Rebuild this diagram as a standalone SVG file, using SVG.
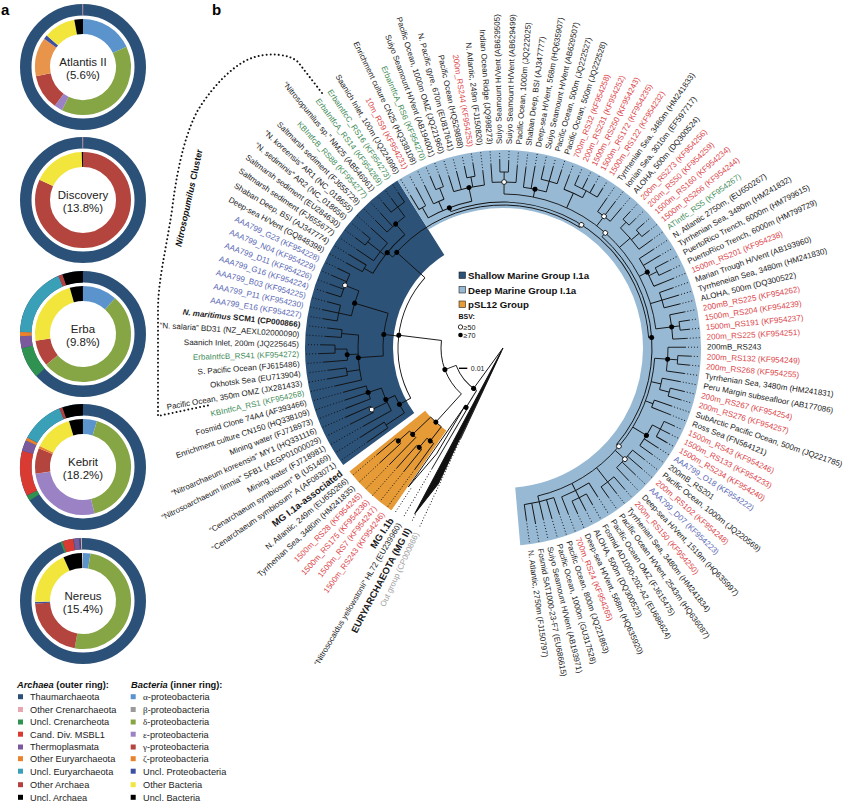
<svg xmlns="http://www.w3.org/2000/svg" width="844" height="803" viewBox="0 0 844 803">
<style>
text{font-family:"Liberation Sans",Arial,sans-serif}
.lb{font-size:8px;fill:#1a1a1a;dominant-baseline:central}
.L{text-anchor:end}
.r{fill:#db464b}
.g{fill:#3f8c58}
.b{fill:#5a68b3}
.gr{fill:#a0a0a0}
.bd{font-weight:bold;font-size:9.5px}
.d{stroke-dasharray:1 2}
.o{fill:none;stroke-width:11.5}
.i{fill:none;stroke-width:15}
.dn{font-size:11.5px;text-anchor:middle;fill:#222}
.leg{font-size:9.2px;fill:#222}
.hd{font-size:9.3px;font-weight:bold;fill:#111}
.bf{fill:#000;stroke:none}
.bo{fill:#fff;stroke:#000;stroke-width:0.8}
.tl{font-size:9.7px;font-weight:bold;fill:#111}
</style>
<rect width="844" height="803" fill="#fff"/>
<text x="1" y="15" font-size="15" font-weight="bold">a</text>
<text x="212" y="15" font-size="15" font-weight="bold">b</text>

<!-- donuts -->
<g id="donut-atlantis" transform="translate(83,67)">
<circle class="o" r="57.25" stroke="#2c5178"/>
<circle class="o" r="57.25" stroke="#e7a7b0" pathLength="360" stroke-dasharray="0.8 360" transform="rotate(269.4)"/>
<circle class="i" r="40.5" stroke="#5b93cc" pathLength="360" stroke-dasharray="65 360" transform="rotate(-90)"/>
<circle class="i" r="40.5" stroke="#86a545" pathLength="360" stroke-dasharray="141 360" transform="rotate(-25)"/>
<circle class="i" r="40.5" stroke="#9b82c4" pathLength="360" stroke-dasharray="10 360" transform="rotate(116)"/>
<circle class="i" r="40.5" stroke="#b3443e" pathLength="360" stroke-dasharray="43 360" transform="rotate(126)"/>
<circle class="i" r="40.5" stroke="#e8944a" pathLength="360" stroke-dasharray="47 360" transform="rotate(169)"/>
<circle class="i" r="40.5" stroke="#3c50a0" pathLength="360" stroke-dasharray="5 360" transform="rotate(216)"/>
<circle class="i" r="40.5" stroke="#f2e53c" pathLength="360" stroke-dasharray="38.5 360" transform="rotate(221)"/>
<circle class="i" r="40.5" stroke="#000" pathLength="360" stroke-dasharray="10.5 360" transform="rotate(259.5)"/>
<text class="dn" y="-1">Atlantis II</text><text class="dn" y="12">(5.6%)</text>
</g>
<g id="donut-discovery" transform="translate(83,200)">
<circle class="o" r="57.25" stroke="#2c5178"/>
<circle class="o" r="57.25" stroke="#e7a7b0" pathLength="360" stroke-dasharray="0.8 360" transform="rotate(269.4)"/>
<circle class="i" r="40.5" stroke="#b3443e" pathLength="360" stroke-dasharray="295 360" transform="rotate(-90)"/>
<circle class="i" r="40.5" stroke="#f2e53c" pathLength="360" stroke-dasharray="63.5 360" transform="rotate(205)"/>
<circle class="i" r="40.5" stroke="#000" pathLength="360" stroke-dasharray="1.5 360" transform="rotate(268.5)"/>
<text class="dn" y="-1">Discovery</text><text class="dn" y="12">(13.8%)</text>
</g>
<g id="donut-erba" transform="translate(83,334)">
<circle class="o" r="57.25" stroke="#2c5178"/>
<circle class="o" r="57.25" stroke="#2f9250" pathLength="360" stroke-dasharray="29 360" transform="rotate(138)"/>
<circle class="o" r="57.25" stroke="#7a5a9c" pathLength="360" stroke-dasharray="11 360" transform="rotate(167)"/>
<circle class="o" r="57.25" stroke="#e8822d" pathLength="360" stroke-dasharray="4 360" transform="rotate(178)"/>
<circle class="o" r="57.25" stroke="#3aa0b8" pathLength="360" stroke-dasharray="65 360" transform="rotate(182)"/>
<circle class="o" r="57.25" stroke="#b5413f" pathLength="360" stroke-dasharray="4 360" transform="rotate(247)"/>
<circle class="o" r="57.25" stroke="#000" pathLength="360" stroke-dasharray="19 360" transform="rotate(251)"/>
<circle class="i" r="40.5" stroke="#5b93cc" pathLength="360" stroke-dasharray="42 360" transform="rotate(-90)"/>
<circle class="i" r="40.5" stroke="#86a545" pathLength="360" stroke-dasharray="188 360" transform="rotate(-48)"/>
<circle class="i" r="40.5" stroke="#b3443e" pathLength="360" stroke-dasharray="32 360" transform="rotate(140)"/>
<circle class="i" r="40.5" stroke="#f2e53c" pathLength="360" stroke-dasharray="82 360" transform="rotate(172)"/>
<circle class="i" r="40.5" stroke="#000" pathLength="360" stroke-dasharray="16 360" transform="rotate(254)"/>
<text class="dn" y="-1">Erba</text><text class="dn" y="12">(9.8%)</text>
</g>
<g id="donut-kebrit" transform="translate(83,467)">
<circle class="o" r="57.25" stroke="#2c5178"/>
<circle class="o" r="57.25" stroke="#2f9250" pathLength="360" stroke-dasharray="5 360" transform="rotate(148)"/>
<circle class="o" r="57.25" stroke="#d93a32" pathLength="360" stroke-dasharray="42 360" transform="rotate(153)"/>
<circle class="o" r="57.25" stroke="#7a5a9c" pathLength="360" stroke-dasharray="10 360" transform="rotate(195)"/>
<circle class="o" r="57.25" stroke="#e8822d" pathLength="360" stroke-dasharray="3 360" transform="rotate(205)"/>
<circle class="o" r="57.25" stroke="#3aa0b8" pathLength="360" stroke-dasharray="40 360" transform="rotate(208)"/>
<circle class="o" r="57.25" stroke="#b5413f" pathLength="360" stroke-dasharray="3 360" transform="rotate(248)"/>
<circle class="o" r="57.25" stroke="#000" pathLength="360" stroke-dasharray="19 360" transform="rotate(251)"/>
<circle class="i" r="40.5" stroke="#5b93cc" pathLength="360" stroke-dasharray="17 360" transform="rotate(-90)"/>
<circle class="i" r="40.5" stroke="#86a545" pathLength="360" stroke-dasharray="149 360" transform="rotate(-73)"/>
<circle class="i" r="40.5" stroke="#9b82c4" pathLength="360" stroke-dasharray="96 360" transform="rotate(76)"/>
<circle class="i" r="40.5" stroke="#b3443e" pathLength="360" stroke-dasharray="31 360" transform="rotate(172)"/>
<circle class="i" r="40.5" stroke="#e8822d" pathLength="360" stroke-dasharray="3 360" transform="rotate(203)"/>
<circle class="i" r="40.5" stroke="#f2e53c" pathLength="360" stroke-dasharray="47 360" transform="rotate(206)"/>
<circle class="i" r="40.5" stroke="#000" pathLength="360" stroke-dasharray="17 360" transform="rotate(253)"/>
<text class="dn" y="-1">Kebrit</text><text class="dn" y="12">(18.2%)</text>
</g>
<g id="donut-nereus" transform="translate(83,601)">
<circle class="o" r="57.25" stroke="#2c5178"/>
<circle class="o" r="57.25" stroke="#2f9250" pathLength="360" stroke-dasharray="2 360" transform="rotate(249)"/>
<circle class="o" r="57.25" stroke="#d93a32" pathLength="360" stroke-dasharray="10 360" transform="rotate(251)"/>
<circle class="o" r="57.25" stroke="#7a5a9c" pathLength="360" stroke-dasharray="5 360" transform="rotate(261.5)"/>
<circle class="o" r="57.25" stroke="#e7a7b0" pathLength="360" stroke-dasharray="1 360" transform="rotate(268)"/>
<circle class="i" r="40.5" stroke="#5b93cc" pathLength="360" stroke-dasharray="9 360" transform="rotate(-90)"/>
<circle class="i" r="40.5" stroke="#86a545" pathLength="360" stroke-dasharray="181 360" transform="rotate(-81)"/>
<circle class="i" r="40.5" stroke="#b3443e" pathLength="360" stroke-dasharray="77 360" transform="rotate(100)"/>
<circle class="i" r="40.5" stroke="#3c50a0" pathLength="360" stroke-dasharray="2 360" transform="rotate(177)"/>
<circle class="i" r="40.5" stroke="#f2e53c" pathLength="360" stroke-dasharray="67 360" transform="rotate(179)"/>
<circle class="i" r="40.5" stroke="#000" pathLength="360" stroke-dasharray="23 360" transform="rotate(246)"/>
<text class="dn" y="-1">Nereus</text><text class="dn" y="12">(15.4%)</text>
</g>

<!-- donut legend -->
<g id="legend-archaea">
<text class="hd" x="17" y="688"><tspan font-style="italic">Archaea</tspan> (outer ring):</text>
<rect x="18" y="694.2" width="5" height="5" fill="#2c5178"/><text class="leg" x="30" y="700">Thaumarchaeota</text>
<rect x="18" y="707" width="5" height="5" fill="#e7a7b0"/><text class="leg" x="30" y="712.8">Other Crenarchaeota</text>
<rect x="18" y="719.5" width="5" height="5" fill="#2f9250"/><text class="leg" x="30" y="725.3">Uncl. Crenarcheota</text>
<rect x="18" y="731.7" width="5" height="5" fill="#d93a32"/><text class="leg" x="30" y="737.5">Cand. Div. MSBL1</text>
<rect x="18" y="744.5" width="5" height="5" fill="#7a5a9c"/><text class="leg" x="30" y="750.3">Thermoplasmata</text>
<rect x="18" y="756.2" width="5" height="5" fill="#e8822d"/><text class="leg" x="30" y="762">Other Euryarchaeota</text>
<rect x="18" y="768.7" width="5" height="5" fill="#3aa0b8"/><text class="leg" x="30" y="774.5">Uncl. Euryarchaeota</text>
<rect x="18" y="782.2" width="5" height="5" fill="#b5413f"/><text class="leg" x="30" y="788">Other Archaea</text>
<rect x="18" y="794.8" width="5" height="5" fill="#000"/><text class="leg" x="30" y="800.6">Uncl. Archaea</text>
</g>
<g id="legend-bacteria">
<text class="hd" x="131" y="688"><tspan font-style="italic">Bacteria</tspan> (inner ring):</text>
<rect x="130.7" y="694.2" width="5" height="5" fill="#5b93cc"/><text class="leg" x="143" y="700"><tspan font-family="Liberation Serif">α</tspan>-proteobacteria</text>
<rect x="130.7" y="707" width="5" height="5" fill="#9a9a9a"/><text class="leg" x="143" y="712.8"><tspan font-family="Liberation Serif">β</tspan>-proteobacteria</text>
<rect x="130.7" y="719.5" width="5" height="5" fill="#86a545"/><text class="leg" x="143" y="725.3"><tspan font-family="Liberation Serif">δ</tspan>-proteobacteria</text>
<rect x="130.7" y="731.7" width="5" height="5" fill="#9b82c4"/><text class="leg" x="143" y="737.5"><tspan font-family="Liberation Serif">ε</tspan>-proteobacteria</text>
<rect x="130.7" y="744.5" width="5" height="5" fill="#b3443e"/><text class="leg" x="143" y="750.3"><tspan font-family="Liberation Serif">γ</tspan>-proteobacteria</text>
<rect x="130.7" y="756.2" width="5" height="5" fill="#e8822d"/><text class="leg" x="143" y="762"><tspan font-family="Liberation Serif">ζ</tspan>-proteobacteria</text>
<rect x="130.7" y="768.7" width="5" height="5" fill="#3c50a0"/><text class="leg" x="143" y="774.5">Uncl. Proteobacteria</text>
<rect x="130.7" y="782.2" width="5" height="5" fill="#f2e53c"/><text class="leg" x="143" y="788">Other Bacteria</text>
<rect x="130.7" y="794.8" width="5" height="5" fill="#000"/><text class="leg" x="143" y="800.6">Uncl. Bacteria</text>
</g>

<!-- clade background rings -->
<g id="clade-rings" transform="translate(503,348)" fill="none">
<circle r="154" stroke="#2c5278" stroke-width="88" pathLength="360" stroke-dasharray="94 360" transform="rotate(143.8)"/>
<circle r="169" stroke="#97b9d4" stroke-width="58" pathLength="360" stroke-dasharray="207.2 360" transform="rotate(237.8)"/>
<circle r="148.5" stroke="#e69b37" stroke-width="97" pathLength="360" stroke-dasharray="16.7 360" transform="rotate(124.5)"/>
</g>

<!-- Nitrosopumilus cluster outline -->
<g id="nitrosopumilus-cluster">
<path d="M322,93 L298,62 C290,54 268,52 252,58 C236,63 214,84 198,110 C188,128 178,160 172,210 C166,250 158,280 158,310 L158,416 L210,405" fill="none" stroke="#111" stroke-width="2" stroke-dasharray="0.01 4" stroke-linecap="round"/>
<text transform="translate(189,198) rotate(-77.6)" text-anchor="middle" dominant-baseline="central" font-size="9" font-weight="bold" fill="#111"><tspan font-style="italic">Nitrosopumilus</tspan> Cluster</text>
</g>

<!-- tree connectors -->
<g id="connectors" transform="translate(503,348)" fill="none" stroke="#111" stroke-width="0.9">
<circle r="50" pathLength="360" stroke-dasharray="37.73 360" transform="rotate(121.875)"/>
<circle r="70" pathLength="360" stroke-dasharray="2.75 360" transform="rotate(120.5)"/>
<circle r="62" pathLength="360" stroke-dasharray="54.81 360" transform="rotate(132.19)"/>
<circle r="100" pathLength="360" stroke-dasharray="8.25 360" transform="rotate(128.06)"/>
<circle r="118" pathLength="360" stroke-dasharray="4.125 360" transform="rotate(126)"/>
<circle r="130" pathLength="360" stroke-dasharray="2.75 360" transform="rotate(128.75)"/>
<circle r="125" pathLength="360" stroke-dasharray="4.125 360" transform="rotate(134.25)"/>
<circle r="140" pathLength="360" stroke-dasharray="2.75 360" transform="rotate(137)"/>
<circle r="105" pathLength="360" stroke-dasharray="70.56 360" transform="rotate(151.44)"/>
<circle r="118" pathLength="360" stroke-dasharray="9.625 360" transform="rotate(146.625)"/>
<circle r="140" pathLength="360" stroke-dasharray="2.75 360" transform="rotate(145.25)"/>
<circle r="128" pathLength="360" stroke-dasharray="11 360" transform="rotate(150.75)"/>
<circle r="145" pathLength="360" stroke-dasharray="2.75 360" transform="rotate(153.5)"/>
<circle r="142" pathLength="360" stroke-dasharray="5.5 360" transform="rotate(159)"/>
<circle r="120" pathLength="360" stroke-dasharray="20.62 360" transform="rotate(176.19)"/>
<circle r="145" pathLength="360" stroke-dasharray="17.875 360" transform="rotate(167.25)"/>
<circle r="158" pathLength="360" stroke-dasharray="2.75 360" transform="rotate(170)"/>
<circle r="156" pathLength="360" stroke-dasharray="4.125 360" transform="rotate(175.5)"/>
<circle r="168" pathLength="360" stroke-dasharray="2.75 360" transform="rotate(178.25)"/>
<circle r="162" pathLength="360" stroke-dasharray="2.75 360" transform="rotate(183.75)"/>
<circle r="155" pathLength="360" stroke-dasharray="9.625 360" transform="rotate(192)"/>
<circle r="168" pathLength="360" stroke-dasharray="5.5 360" transform="rotate(189.25)"/>
<circle r="170" pathLength="360" stroke-dasharray="8.25 360" transform="rotate(197.5)"/>
<circle r="143" pathLength="360" stroke-dasharray="83 360" transform="rotate(219.5)"/>
<circle r="150" pathLength="360" stroke-dasharray="19.25 360" transform="rotate(209.875)"/>
<circle r="160" pathLength="360" stroke-dasharray="2.75 360" transform="rotate(208.5)"/>
<circle r="156" pathLength="360" stroke-dasharray="8.25 360" transform="rotate(214)"/>
<circle r="172" pathLength="360" stroke-dasharray="2.75 360" transform="rotate(216.75)"/>
<circle r="164" pathLength="360" stroke-dasharray="8.25 360" transform="rotate(225)"/>
<circle r="176" pathLength="360" stroke-dasharray="5.5 360" transform="rotate(230.5)"/>
<circle r="146" pathLength="360" stroke-dasharray="106.91 360" transform="rotate(249.06)"/>
<circle r="150" pathLength="360" stroke-dasharray="17.875 360" transform="rotate(240.125)"/>
<circle r="162" pathLength="360" stroke-dasharray="2.75 360" transform="rotate(238.75)"/>
<circle r="160" pathLength="360" stroke-dasharray="4.125 360" transform="rotate(244.25)"/>
<circle r="172" pathLength="360" stroke-dasharray="2.75 360" transform="rotate(247)"/>
<circle r="164" pathLength="360" stroke-dasharray="11 360" transform="rotate(252.5)"/>
<circle r="174" pathLength="360" stroke-dasharray="2.75 360" transform="rotate(258)"/>
<circle r="149" pathLength="360" stroke-dasharray="88.685 360" transform="rotate(311.625)"/>
<circle r="154" pathLength="360" stroke-dasharray="82.5 360" transform="rotate(270.375)"/>
<circle r="166" pathLength="360" stroke-dasharray="8.25 360" transform="rotate(266.25)"/>
<circle r="176" pathLength="360" stroke-dasharray="2.75 360" transform="rotate(269)"/>
<circle r="162" pathLength="360" stroke-dasharray="8.25 360" transform="rotate(277.25)"/>
<circle r="173" pathLength="360" stroke-dasharray="5.5 360" transform="rotate(282.75)"/>
<circle r="170" pathLength="360" stroke-dasharray="6.875 360" transform="rotate(291)"/>
<circle r="178" pathLength="360" stroke-dasharray="8.25 360" transform="rotate(293.75)"/>
<circle r="166" pathLength="360" stroke-dasharray="5.5 360" transform="rotate(304.75)"/>
<circle r="168" pathLength="360" stroke-dasharray="9.625 360" transform="rotate(314.375)"/>
<circle r="176" pathLength="360" stroke-dasharray="2.75 360" transform="rotate(313)"/>
<circle r="178" pathLength="360" stroke-dasharray="2.75 360" transform="rotate(318.5)"/>
<circle r="163" pathLength="360" stroke-dasharray="11 360" transform="rotate(326.75)"/>
<circle r="172" pathLength="360" stroke-dasharray="2.75 360" transform="rotate(332.25)"/>
<circle r="166" pathLength="360" stroke-dasharray="5.5 360" transform="rotate(340.5)"/>
<circle r="170" pathLength="360" stroke-dasharray="8.25 360" transform="rotate(348.75)"/>
<circle r="178" pathLength="360" stroke-dasharray="2.75 360" transform="rotate(351.5)"/>
<circle r="152" pathLength="360" stroke-dasharray="72.875 360" transform="rotate(363.875)"/>
<circle r="165" pathLength="360" stroke-dasharray="8.25 360" transform="rotate(359.75)"/>
<circle r="175" pathLength="360" stroke-dasharray="2.75 360" transform="rotate(362.5)"/>
<circle r="162" pathLength="360" stroke-dasharray="4.125 360" transform="rotate(370.75)"/>
<circle r="172" pathLength="360" stroke-dasharray="2.75 360" transform="rotate(373.5)"/>
<circle r="160" pathLength="360" stroke-dasharray="2.75 360" transform="rotate(379)"/>
<circle r="168" pathLength="360" stroke-dasharray="8.25 360" transform="rotate(387.25)"/>
<circle r="177" pathLength="360" stroke-dasharray="5.5 360" transform="rotate(384.5)"/>
<circle r="165" pathLength="360" stroke-dasharray="8.25 360" transform="rotate(398.25)"/>
<circle r="170" pathLength="360" stroke-dasharray="5.5 360" transform="rotate(409.25)"/>
<circle r="160" pathLength="360" stroke-dasharray="11 360" transform="rotate(417.5)"/>
<circle r="168" pathLength="360" stroke-dasharray="5.5 360" transform="rotate(420.25)"/>
<circle r="158" pathLength="360" stroke-dasharray="11 360" transform="rotate(431.25)"/>
<path d="M0 0H50" transform="rotate(126)"/>
<path d="M50 0H70" transform="rotate(121.875)"/>
<path d="M50 0H62" transform="rotate(159.6)"/>
<path d="M62 0H100" transform="rotate(132.19)"/>
<path d="M100 0H118" transform="rotate(128.06)"/>
<path d="M118 0H130" transform="rotate(130.125)"/>
<path d="M100 0H125" transform="rotate(136.31)"/>
<path d="M125 0H140" transform="rotate(138.375)"/>
<path d="M62 0H105" transform="rotate(187)"/>
<path d="M105 0H118" transform="rotate(151.44)"/>
<path d="M118 0H140" transform="rotate(146.625)"/>
<path d="M118 0H128" transform="rotate(156.25)"/>
<path d="M128 0H145" transform="rotate(154.875)"/>
<path d="M128 0H142" transform="rotate(161.75)"/>
<path d="M105 0H120" transform="rotate(186.5)"/>
<path d="M120 0H145" transform="rotate(176.19)"/>
<path d="M145 0H158" transform="rotate(171.375)"/>
<path d="M145 0H156" transform="rotate(177.56)"/>
<path d="M156 0H168" transform="rotate(179.625)"/>
<path d="M145 0H162" transform="rotate(185.125)"/>
<path d="M120 0H155" transform="rotate(196.81)"/>
<path d="M155 0H168" transform="rotate(192)"/>
<path d="M155 0H170" transform="rotate(201.625)"/>
<path d="M105 0H143" transform="rotate(222)"/>
<path d="M143 0H150" transform="rotate(219.5)"/>
<path d="M150 0H160" transform="rotate(209.875)"/>
<path d="M150 0H172" transform="rotate(218.125)"/>
<path d="M150 0H164" transform="rotate(229.125)"/>
<path d="M164 0H176" transform="rotate(233.25)"/>
<path d="M143 0H146" transform="rotate(302.5)"/>
<path d="M146 0H150" transform="rotate(249.06)"/>
<path d="M150 0H162" transform="rotate(240.125)"/>
<path d="M150 0H160" transform="rotate(246.31)"/>
<path d="M160 0H172" transform="rotate(248.375)"/>
<path d="M150 0H164" transform="rotate(258)"/>
<path d="M164 0H174" transform="rotate(259.375)"/>
<path d="M146 0H149" transform="rotate(355.97)"/>
<path d="M149 0H154" transform="rotate(311.625)"/>
<path d="M154 0H176" transform="rotate(270.375)"/>
<path d="M154 0H162" transform="rotate(281.375)"/>
<path d="M162 0H173" transform="rotate(285.5)"/>
<path d="M154 0H170" transform="rotate(294.44)"/>
<path d="M170 0H178" transform="rotate(297.875)"/>
<path d="M154 0H166" transform="rotate(307.5)"/>
<path d="M154 0H168" transform="rotate(319.19)"/>
<path d="M168 0H176" transform="rotate(314.375)"/>
<path d="M168 0H178" transform="rotate(319.875)"/>
<path d="M154 0H163" transform="rotate(332.25)"/>
<path d="M163 0H172" transform="rotate(333.625)"/>
<path d="M154 0H166" transform="rotate(343.25)"/>
<path d="M154 0H178" transform="rotate(352.875)"/>
<path d="M149 0H152" transform="rotate(400.31)"/>
<path d="M152 0H175" transform="rotate(363.875)"/>
<path d="M152 0H162" transform="rotate(372.81)"/>
<path d="M162 0H172" transform="rotate(374.875)"/>
<path d="M152 0H160" transform="rotate(380.375)"/>
<path d="M152 0H168" transform="rotate(391.375)"/>
<path d="M168 0H177" transform="rotate(387.25)"/>
<path d="M152 0H165" transform="rotate(402.375)"/>
<path d="M152 0H170" transform="rotate(412)"/>
<path d="M152 0H168" transform="rotate(423)"/>
<path d="M152 0H158" transform="rotate(436.75)"/>
<polygon points="4,0 150,-6 188,1" fill="#111" transform="rotate(117.75)"/>
<polygon points="70,0 125,-2.5 168,3" fill="#fff" transform="rotate(123.25)"/>
<path class="d" d="M188 0H197" transform="rotate(117.75)"/>
<path class="d" d="M168 0H197" transform="rotate(123.25)"/>
<g transform="rotate(115)"><path d="M0 0H100"/><path class="d" d="M100 0H197"/></g>
<g transform="rotate(120.5)"><path d="M70 0H140"/><path class="d" d="M140 0H197"/></g>
<g transform="rotate(126)"><path d="M118 0H150"/><path class="d" d="M150 0H197"/></g>
<g transform="rotate(128.75)"><path d="M130 0H158"/><path class="d" d="M158 0H197"/></g>
<g transform="rotate(131.5)"><path d="M130 0H160"/><path class="d" d="M160 0H197"/></g>
<g transform="rotate(134.25)"><path d="M125 0H162"/><path class="d" d="M162 0H197"/></g>
<g transform="rotate(137)"><path d="M140 0H168"/><path class="d" d="M168 0H197"/></g>
<g transform="rotate(139.75)"><path d="M140 0H165"/><path class="d" d="M165 0H197"/></g>
<g transform="rotate(145.25)"><path d="M140 0H165"/><path class="d" d="M165 0H197"/></g>
<g transform="rotate(148)"><path d="M140 0H168"/><path class="d" d="M168 0H197"/></g>
<g transform="rotate(150.75)"><path d="M128 0H160"/><path class="d" d="M160 0H197"/></g>
<g transform="rotate(153.5)"><path d="M145 0H170"/><path class="d" d="M170 0H197"/></g>
<g transform="rotate(156.25)"><path d="M145 0H172"/><path class="d" d="M172 0H197"/></g>
<g transform="rotate(159)"><path d="M142 0H168"/><path class="d" d="M168 0H197"/></g>
<g transform="rotate(161.75)"><path d="M142 0H166"/><path class="d" d="M166 0H197"/></g>
<g transform="rotate(164.5)"><path d="M142 0H165"/><path class="d" d="M165 0H197"/></g>
<g transform="rotate(167.25)"><path d="M145 0H172"/><path class="d" d="M172 0H197"/></g>
<g transform="rotate(170)"><path d="M158 0H178"/><path class="d" d="M178 0H197"/></g>
<g transform="rotate(172.75)"><path d="M158 0H176"/><path class="d" d="M176 0H197"/></g>
<g transform="rotate(175.5)"><path d="M156 0H180"/><path class="d" d="M180 0H197"/></g>
<g transform="rotate(178.25)"><path d="M168 0H184"/><path class="d" d="M184 0H197"/></g>
<g transform="rotate(181)"><path d="M168 0H182"/><path class="d" d="M182 0H197"/></g>
<g transform="rotate(183.75)"><path d="M162 0H178"/><path class="d" d="M178 0H197"/></g>
<g transform="rotate(186.5)"><path d="M162 0H176"/><path class="d" d="M176 0H197"/></g>
<g transform="rotate(189.25)"><path d="M168 0H182"/><path class="d" d="M182 0H197"/></g>
<g transform="rotate(192)"><path d="M168 0H184"/><path class="d" d="M184 0H197"/></g>
<g transform="rotate(194.75)"><path d="M168 0H181"/><path class="d" d="M181 0H197"/></g>
<g transform="rotate(197.5)"><path d="M170 0H185"/><path class="d" d="M185 0H197"/></g>
<g transform="rotate(200.25)"><path d="M170 0H184"/><path class="d" d="M184 0H197"/></g>
<g transform="rotate(203)"><path d="M170 0H186"/><path class="d" d="M186 0H197"/></g>
<g transform="rotate(205.75)"><path d="M170 0H183"/><path class="d" d="M183 0H197"/></g>
<g transform="rotate(208.5)"><path d="M160 0H178"/><path class="d" d="M178 0H197"/></g>
<g transform="rotate(211.25)"><path d="M160 0H180"/><path class="d" d="M180 0H197"/></g>
<g transform="rotate(214)"><path d="M156 0H176"/><path class="d" d="M176 0H197"/></g>
<g transform="rotate(216.75)"><path d="M172 0H184"/><path class="d" d="M184 0H197"/></g>
<g transform="rotate(219.5)"><path d="M172 0H182"/><path class="d" d="M182 0H197"/></g>
<g transform="rotate(222.25)"><path d="M156 0H178"/><path class="d" d="M178 0H197"/></g>
<g transform="rotate(225)"><path d="M164 0H180"/><path class="d" d="M180 0H197"/></g>
<g transform="rotate(227.75)"><path d="M164 0H182"/><path class="d" d="M182 0H197"/></g>
<g transform="rotate(230.5)"><path d="M176 0H188"/><path class="d" d="M188 0H197"/></g>
<g transform="rotate(233.25)"><path d="M176 0H186"/><path class="d" d="M186 0H197"/></g>
<g transform="rotate(236)"><path d="M176 0H187"/><path class="d" d="M187 0H197"/></g>
<g transform="rotate(238.75)"><path d="M162 0H178"/><path class="d" d="M178 0H197"/></g>
<g transform="rotate(241.5)"><path d="M162 0H182"/><path class="d" d="M182 0H197"/></g>
<g transform="rotate(244.25)"><path d="M160 0H180"/><path class="d" d="M180 0H197"/></g>
<g transform="rotate(247)"><path d="M172 0H186"/><path class="d" d="M186 0H197"/></g>
<g transform="rotate(249.75)"><path d="M172 0H184"/><path class="d" d="M184 0H197"/></g>
<g transform="rotate(252.5)"><path d="M164 0H180"/><path class="d" d="M180 0H197"/></g>
<g transform="rotate(255.25)"><path d="M164 0H182"/><path class="d" d="M182 0H197"/></g>
<g transform="rotate(258)"><path d="M174 0H185"/><path class="d" d="M185 0H197"/></g>
<g transform="rotate(260.75)"><path d="M174 0H187"/><path class="d" d="M187 0H197"/></g>
<g transform="rotate(263.5)"><path d="M164 0H178"/><path class="d" d="M178 0H197"/></g>
<g transform="rotate(266.25)"><path d="M166 0H184"/><path class="d" d="M184 0H197"/></g>
<g transform="rotate(269)"><path d="M176 0H188"/><path class="d" d="M188 0H197"/></g>
<g transform="rotate(271.75)"><path d="M176 0H187"/><path class="d" d="M187 0H197"/></g>
<g transform="rotate(274.5)"><path d="M166 0H183"/><path class="d" d="M183 0H197"/></g>
<g transform="rotate(277.25)"><path d="M162 0H182"/><path class="d" d="M182 0H197"/></g>
<g transform="rotate(280)"><path d="M162 0H184"/><path class="d" d="M184 0H197"/></g>
<g transform="rotate(282.75)"><path d="M173 0H186"/><path class="d" d="M186 0H197"/></g>
<g transform="rotate(285.5)"><path d="M173 0H188"/><path class="d" d="M188 0H197"/></g>
<g transform="rotate(288.25)"><path d="M173 0H187"/><path class="d" d="M187 0H197"/></g>
<g transform="rotate(291)"><path d="M170 0H185"/><path class="d" d="M185 0H197"/></g>
<g transform="rotate(293.75)"><path d="M178 0H188"/><path class="d" d="M188 0H197"/></g>
<g transform="rotate(296.5)"><path d="M178 0H189"/><path class="d" d="M189 0H197"/></g>
<g transform="rotate(299.25)"><path d="M178 0H187"/><path class="d" d="M187 0H197"/></g>
<g transform="rotate(302)"><path d="M178 0H188"/><path class="d" d="M188 0H197"/></g>
<g transform="rotate(304.75)"><path d="M166 0H182"/><path class="d" d="M182 0H197"/></g>
<g transform="rotate(307.5)"><path d="M166 0H184"/><path class="d" d="M184 0H197"/></g>
<g transform="rotate(310.25)"><path d="M166 0H183"/><path class="d" d="M183 0H197"/></g>
<g transform="rotate(313)"><path d="M176 0H186"/><path class="d" d="M186 0H197"/></g>
<g transform="rotate(315.75)"><path d="M176 0H185"/><path class="d" d="M185 0H197"/></g>
<g transform="rotate(318.5)"><path d="M178 0H188"/><path class="d" d="M188 0H197"/></g>
<g transform="rotate(321.25)"><path d="M178 0H187"/><path class="d" d="M187 0H197"/></g>
<g transform="rotate(324)"><path d="M168 0H184"/><path class="d" d="M184 0H197"/></g>
<g transform="rotate(326.75)"><path d="M163 0H180"/><path class="d" d="M180 0H197"/></g>
<g transform="rotate(329.5)"><path d="M163 0H182"/><path class="d" d="M182 0H197"/></g>
<g transform="rotate(332.25)"><path d="M172 0H186"/><path class="d" d="M186 0H197"/></g>
<g transform="rotate(335)"><path d="M172 0H185"/><path class="d" d="M185 0H197"/></g>
<g transform="rotate(337.75)"><path d="M163 0H184"/><path class="d" d="M184 0H197"/></g>
<g transform="rotate(340.5)"><path d="M166 0H180"/><path class="d" d="M180 0H197"/></g>
<g transform="rotate(343.25)"><path d="M166 0H183"/><path class="d" d="M183 0H197"/></g>
<g transform="rotate(346)"><path d="M166 0H182"/><path class="d" d="M182 0H197"/></g>
<g transform="rotate(348.75)"><path d="M170 0H185"/><path class="d" d="M185 0H197"/></g>
<g transform="rotate(351.5)"><path d="M178 0H188"/><path class="d" d="M188 0H197"/></g>
<g transform="rotate(354.25)"><path d="M178 0H187"/><path class="d" d="M187 0H197"/></g>
<g transform="rotate(357)"><path d="M170 0H184"/><path class="d" d="M184 0H197"/></g>
<g transform="rotate(359.75)"><path d="M165 0H182"/><path class="d" d="M182 0H197"/></g>
<g transform="rotate(362.5)"><path d="M175 0H188"/><path class="d" d="M188 0H197"/></g>
<g transform="rotate(365.25)"><path d="M175 0H187"/><path class="d" d="M187 0H197"/></g>
<g transform="rotate(368)"><path d="M165 0H183"/><path class="d" d="M183 0H197"/></g>
<g transform="rotate(370.75)"><path d="M162 0H180"/><path class="d" d="M180 0H197"/></g>
<g transform="rotate(373.5)"><path d="M172 0H186"/><path class="d" d="M186 0H197"/></g>
<g transform="rotate(376.25)"><path d="M172 0H185"/><path class="d" d="M185 0H197"/></g>
<g transform="rotate(379)"><path d="M160 0H178"/><path class="d" d="M178 0H197"/></g>
<g transform="rotate(381.75)"><path d="M160 0H180"/><path class="d" d="M180 0H197"/></g>
<g transform="rotate(384.5)"><path d="M177 0H188"/><path class="d" d="M188 0H197"/></g>
<g transform="rotate(387.25)"><path d="M177 0H187"/><path class="d" d="M187 0H197"/></g>
<g transform="rotate(390)"><path d="M177 0H189"/><path class="d" d="M189 0H197"/></g>
<g transform="rotate(392.75)"><path d="M168 0H184"/><path class="d" d="M184 0H197"/></g>
<g transform="rotate(395.5)"><path d="M168 0H183"/><path class="d" d="M183 0H197"/></g>
<g transform="rotate(398.25)"><path d="M165 0H180"/><path class="d" d="M180 0H197"/></g>
<g transform="rotate(401)"><path d="M165 0H184"/><path class="d" d="M184 0H197"/></g>
<g transform="rotate(403.75)"><path d="M165 0H183"/><path class="d" d="M183 0H197"/></g>
<g transform="rotate(406.5)"><path d="M165 0H182"/><path class="d" d="M182 0H197"/></g>
<g transform="rotate(409.25)"><path d="M170 0H186"/><path class="d" d="M186 0H197"/></g>
<g transform="rotate(412)"><path d="M170 0H184"/><path class="d" d="M184 0H197"/></g>
<g transform="rotate(414.75)"><path d="M170 0H183"/><path class="d" d="M183 0H197"/></g>
<g transform="rotate(417.5)"><path d="M160 0H176"/><path class="d" d="M176 0H197"/></g>
<g transform="rotate(420.25)"><path d="M168 0H180"/><path class="d" d="M180 0H197"/></g>
<g transform="rotate(423)"><path d="M168 0H182"/><path class="d" d="M182 0H197"/></g>
<g transform="rotate(425.75)"><path d="M168 0H181"/><path class="d" d="M181 0H197"/></g>
<g transform="rotate(428.5)"><path d="M160 0H178"/><path class="d" d="M178 0H197"/></g>
<g transform="rotate(431.25)"><path d="M158 0H175"/><path class="d" d="M175 0H197"/></g>
<g transform="rotate(434)"><path d="M158 0H177"/><path class="d" d="M177 0H197"/></g>
<g transform="rotate(436.75)"><path d="M158 0H176"/><path class="d" d="M176 0H197"/></g>
<g transform="rotate(439.5)"><path d="M158 0H178"/><path class="d" d="M178 0H197"/></g>
<g transform="rotate(442.25)"><path d="M158 0H174"/><path class="d" d="M174 0H197"/></g>
</g>

<!-- bootstrap support -->
<g id="bootstrap" transform="translate(503,348)">
<circle class="bf" cx="50" r="2.5" transform="rotate(126)"/>
<circle class="bf" cx="62" r="2.5" transform="rotate(159.6)"/>
<circle class="bf" cx="70" r="2.5" transform="rotate(121.875)"/>
<circle class="bf" cx="100" r="2.5" transform="rotate(132.19)"/>
<circle class="bf" cx="118" r="2.5" transform="rotate(128.06)"/>
<circle class="bf" cx="125" r="2.5" transform="rotate(136.31)"/>
<circle class="bf" cx="140" r="2.5" transform="rotate(138.375)"/>
<circle class="bf" cx="130" r="2.5" transform="rotate(130.125)"/>
<circle class="bf" cx="105" r="2.5" transform="rotate(187)"/>
<circle class="bf" cx="118" r="2.5" transform="rotate(151.44)"/>
<circle class="bf" cx="128" r="2.5" transform="rotate(156.25)"/>
<circle class="bf" cx="142" r="2.5" transform="rotate(161.75)"/>
<circle class="bf" cx="120" r="2.5" transform="rotate(186.5)"/>
<circle class="bf" cx="145" r="2.5" transform="rotate(176.19)"/>
<circle class="bf" cx="156" r="2.5" transform="rotate(177.56)"/>
<circle class="bf" cx="155" r="2.5" transform="rotate(196.81)"/>
<circle class="bf" cx="150" r="2.5" transform="rotate(219.5)"/>
<circle class="bf" cx="143" r="2.5" transform="rotate(222)"/>
<circle class="bf" cx="164" r="2.5" transform="rotate(229.125)"/>
<circle class="bf" cx="150" r="2.5" transform="rotate(249.06)"/>
<circle class="bf" cx="164" r="2.5" transform="rotate(258)"/>
<circle class="bf" cx="162" r="2.5" transform="rotate(281.375)"/>
<circle class="bf" cx="149" r="2.5" transform="rotate(355.97)"/>
<circle class="bf" cx="163" r="2.5" transform="rotate(332.25)"/>
<circle class="bf" cx="165" r="2.5" transform="rotate(363.875)"/>
<circle class="bf" cx="168" r="2.5" transform="rotate(391.375)"/>
<circle class="bf" cx="170" r="2.5" transform="rotate(352.875)"/>
<circle class="bo" cx="170" r="2.4" transform="rotate(201.625)"/>
<circle class="bo" cx="145" r="2.4" transform="rotate(154.875)"/>
<circle class="bo" cx="146" r="2.4" transform="rotate(302.5)"/>
<circle class="bo" cx="154" r="2.4" transform="rotate(311.625)"/>
<circle class="bo" cx="166" r="2.4" transform="rotate(270.375)"/>
<circle class="bo" cx="152" r="2.4" transform="rotate(400.31)"/>
<circle class="bo" cx="165" r="2.4" transform="rotate(402.375)"/>
<circle class="bo" cx="166" r="2.4" transform="rotate(307.5)"/>
</g>

<!-- leaf labels -->
<g id="leaf-labels" transform="translate(503,348)">
<text class="lb L gr" transform="rotate(-65)" x="-204">Out group (CP000866)</text>
<text class="lb L bd" transform="rotate(-62.25)" x="-204">EURYARCHAEOTA (MG II)</text>
<text class="lb L" transform="rotate(-59.5)" x="-204">“Nitrosocaldus yellowstonii” HL72 (EU239960)</text>
<text class="lb L bd" transform="rotate(-56.75)" x="-204">MG I.1b</text>
<text class="lb L r" transform="rotate(-54)" x="-204">1500m_RS243 (KF954246)</text>
<text class="lb L r" transform="rotate(-51.25)" x="-204">1500m_RS7 (KF954247)</text>
<text class="lb L r" transform="rotate(-48.5)" x="-204">1500m_RS175 (KF954236)</text>
<text class="lb L r" transform="rotate(-45.75)" x="-204">1500m_RS28 (KF954245)</text>
<text class="lb L" transform="rotate(-43)" x="-204">Tyrrhenian Sea, 3480m (HM241835)</text>
<text class="lb L" transform="rotate(-40.25)" x="-204">N. Atlantic, 249m (EU650266)</text>
<text class="lb L bd" transform="rotate(-37.5)" x="-204">MG I.1a-associated</text>
<text class="lb L" transform="rotate(-34.75)" x="-204">“Cenarchaeum symbiosum” A (AF083071)</text>
<text class="lb L" transform="rotate(-32)" x="-204">“Cenarchaeum symbiosum” B (U51469)</text>
<text class="lb L" transform="rotate(-29.25)" x="-204">Mining water (FJ718981)</text>
<text class="lb L" transform="rotate(-26.5)" x="-204">“Nitrosoarchaeum limnia” SFB1 (AEGP01000029)</text>
<text class="lb L" transform="rotate(-23.75)" x="-204">“Nitroarchaeum koreensis” MY1 (HQ331116)</text>
<text class="lb L" transform="rotate(-21)" x="-204">Mining water (FJ718973)</text>
<text class="lb L" transform="rotate(-18.25)" x="-204">Enrichment culture CN150 (HQ338109)</text>
<text class="lb L" transform="rotate(-15.5)" x="-204">Fosmid Clone 74A4 (AF393466)</text>
<text class="lb L g" transform="rotate(-12.75)" x="-204">KBIntfcA_RS1 (KF954268)</text>
<text class="lb L" transform="rotate(-10)" x="-204">Pacific Ocean, 350m OMZ (JX281433)</text>
<text class="lb L" transform="rotate(-7.25)" x="-204">Okhotsk Sea (EU713904)</text>
<text class="lb L" transform="rotate(-4.5)" x="-204">S. Pacific Ocean (FJ615486)</text>
<text class="lb L g" transform="rotate(-1.75)" x="-204">ErbaIntfcB_RS41 (KF954272)</text>
<text class="lb L" transform="rotate(1)" x="-204">Saanich Inlet, 200m (JQ225645)</text>
<text class="lb L" transform="rotate(3.75)" x="-204">“N. salaria” BD31 (NZ_AEXL02000090)</text>
<text class="lb L" font-weight="bold" transform="rotate(6.5)" x="-204"><tspan font-style="italic">N. maritimus</tspan> SCM1 (CP000866)</text>
<text class="lb L b" transform="rotate(9.25)" x="-204">AAA799_E16 (KF954227)</text>
<text class="lb L b" transform="rotate(12)" x="-204">AAA799_P11 (KF954230)</text>
<text class="lb L b" transform="rotate(14.75)" x="-204">AAA799_B03 (KF954225)</text>
<text class="lb L b" transform="rotate(17.5)" x="-204">AAA799_G16 (KF954224)</text>
<text class="lb L b" transform="rotate(20.25)" x="-204">AAA799_D11 (KF954226)</text>
<text class="lb L b" transform="rotate(23)" x="-204">AAA799_N04 (KF954229)</text>
<text class="lb L b" transform="rotate(25.75)" x="-204">AAA799_G23 (KF954228)</text>
<text class="lb L" transform="rotate(28.5)" x="-204">Deep-sea H/Vent (GQ848398)</text>
<text class="lb L" transform="rotate(31.25)" x="-204">Shaban Deep, BSI (AJ347774)</text>
<text class="lb L" transform="rotate(34)" x="-204">Saltmarsh sediment (FJ655677)</text>
<text class="lb L" transform="rotate(36.75)" x="-204">Saltmarsh sediment (EU284630)</text>
<text class="lb L" transform="rotate(39.5)" x="-204">“N. sediminis” AR2 (NC_018656)</text>
<text class="lb L" transform="rotate(42.25)" x="-204">“N. koreensis” AR1 (NC_018655)</text>
<text class="lb L" transform="rotate(45)" x="-204">Saltmarsh sediment (FJ655729)</text>
<text class="lb L g" transform="rotate(47.75)" x="-204">KBIntfcB_RS88 (KF954277)</text>
<text class="lb L" transform="rotate(50.5)" x="-204">“Nitrosopumilus sp.” NM25 (AB546961)</text>
<text class="lb L g" transform="rotate(53.25)" x="-204">ErbaIntfcA_RS14 (KF954269)</text>
<text class="lb L g" transform="rotate(56)" x="-204">ErbaIntfcC_RS16 (KF954273)</text>
<text class="lb L" transform="rotate(58.75)" x="-204">Saanich Inlet, 100m (JQ224996)</text>
<text class="lb L r" transform="rotate(61.5)" x="-204">10m_RS9 (KF954231)</text>
<text class="lb L" transform="rotate(64.25)" x="-204">Enrichment culture CN25 (HQ338108)</text>
<text class="lb L g" transform="rotate(67)" x="-204">ErbaIntfcA_RS6 (KF954270)</text>
<text class="lb L" transform="rotate(69.75)" x="-204">Suiyo Seamount H/Vent (AB194001)</text>
<text class="lb L" transform="rotate(72.5)" x="-204">Pacific Ocean, 1000m OMZ (JQ221960)</text>
<text class="lb L" transform="rotate(75.25)" x="-204">N. Pacific gyre, 670m (EU817641)</text>
<text class="lb L" transform="rotate(78)" x="-204">Pacific Ocean (HQ529888)</text>
<text class="lb L r" transform="rotate(80.75)" x="-204">200m_RS244 (KF954253)</text>
<text class="lb L" transform="rotate(83.5)" x="-204">N. Atlantic, 249m (FJ150820)</text>
<text class="lb L" transform="rotate(86.25)" x="-204">Indian Ocean Ridge (JQ998273)</text>
<text class="lb" transform="rotate(269)" x="204">Suiyo Seamount H/Vent (AB629505)</text>
<text class="lb" transform="rotate(271.75)" x="204">Suiyo Seamount H/Vent (AB629499)</text>
<text class="lb" transform="rotate(274.5)" x="204">Pacific Ocean, 1000m (JQ222025)</text>
<text class="lb" transform="rotate(277.25)" x="204">Shaban Deep, BSI (AJ347777)</text>
<text class="lb" transform="rotate(280)" x="204">Deep-sea H/Vent, 568m (HQ635907)</text>
<text class="lb" transform="rotate(282.75)" x="204">Suiyo Seamount H/Vent (AB629507)</text>
<text class="lb" transform="rotate(285.5)" x="204">Pacific Ocean, 500m (JQ222527)</text>
<text class="lb" transform="rotate(288.25)" x="204">Pacific Ocean, 500m (JQ222528)</text>
<text class="lb r" transform="rotate(291)" x="204">700m_RS32 (KF954258)</text>
<text class="lb r" transform="rotate(293.75)" x="204">200m_RS231 (KF954252)</text>
<text class="lb r" transform="rotate(296.5)" x="204">1500m_RS250 (KF954243)</text>
<text class="lb r" transform="rotate(299.25)" x="204">1500m_RS172 (KF954235)</text>
<text class="lb r" transform="rotate(302)" x="204">1500m_RS122 (KF954232)</text>
<text class="lb" transform="rotate(304.75)" x="204">Tyrrhenian Sea, 3480m (HM241833)</text>
<text class="lb" transform="rotate(307.5)" x="204">Ionian Sea, 3010m (EF597717)</text>
<text class="lb" transform="rotate(310.25)" x="204">ALOHA, 500m (DQ300524)</text>
<text class="lb r" transform="rotate(313)" x="204">200m_RS273 (KF954256)</text>
<text class="lb r" transform="rotate(315.75)" x="204">200m_RS50 (KF954259)</text>
<text class="lb r" transform="rotate(318.5)" x="204">1500m_RS160 (KF954234)</text>
<text class="lb r" transform="rotate(321.25)" x="204">1500m_RS266 (KF954244)</text>
<text class="lb g" transform="rotate(324)" x="204">ATIntfc_RS5 (KF954267)</text>
<text class="lb" transform="rotate(326.75)" x="204">N. Atlantic 2750m, (EU650267)</text>
<text class="lb" transform="rotate(329.5)" x="204">Tyrrhenian Sea, 3480m (HM241832)</text>
<text class="lb" transform="rotate(332.25)" x="204">PuertoRico Trench, 6000m (HM799615)</text>
<text class="lb" transform="rotate(335)" x="204">PuertoRico Trench, 6000m (HM799729)</text>
<text class="lb r" transform="rotate(337.75)" x="204">1500m_RS201 (KF954238)</text>
<text class="lb" transform="rotate(340.5)" x="204">Marian Trough H/Vent (AB193960)</text>
<text class="lb" transform="rotate(343.25)" x="204">Tyrrheneian Sea, 3480m (HM241830)</text>
<text class="lb" transform="rotate(346)" x="204">ALOHA, 500m (DQ300522)</text>
<text class="lb r" transform="rotate(348.75)" x="204">200mB_RS225 (KF954262)</text>
<text class="lb r" transform="rotate(351.5)" x="204">1500m_RS204 (KF954239)</text>
<text class="lb r" transform="rotate(354.25)" x="204">1500m_RS191 (KF954237)</text>
<text class="lb r" transform="rotate(357)" x="204">200m_RS225 (KF954251)</text>
<text class="lb" transform="rotate(359.75)" x="204">200mB_RS243</text>
<text class="lb r" transform="rotate(362.5)" x="204">200m_RS132 (KF954249)</text>
<text class="lb r" transform="rotate(365.25)" x="204">200m_RS268 (KF954255)</text>
<text class="lb" transform="rotate(368)" x="204">Tyrrhenian Sea, 3480m (HM241831)</text>
<text class="lb" transform="rotate(370.75)" x="204">Peru Margin subseafloor (AB177086)</text>
<text class="lb r" transform="rotate(373.5)" x="204">200m_RS267 (KF954254)</text>
<text class="lb r" transform="rotate(376.25)" x="204">200m_RS276 (KF954257)</text>
<text class="lb" transform="rotate(379)" x="204">SubArctic Pacific Ocean, 500m (JQ221785)</text>
<text class="lb" transform="rotate(381.75)" x="204">Ross Sea (FN564121)</text>
<text class="lb r" transform="rotate(384.5)" x="204">1500m_RS43 (KF954246)</text>
<text class="lb r" transform="rotate(387.25)" x="204">1500m_RS133 (KF954233)</text>
<text class="lb r" transform="rotate(390)" x="204">1500m_RS234 (KF954240)</text>
<text class="lb b" transform="rotate(392.75)" x="204">AAA799_O18 (KF954222)</text>
<text class="lb" transform="rotate(395.5)" x="204">200mB_RS201</text>
<text class="lb" transform="rotate(398.25)" x="204">Pacific Ocean, 1000m (JQ220569)</text>
<text class="lb r" transform="rotate(401)" x="204">200m_RS102 (KF954248)</text>
<text class="lb b" transform="rotate(403.75)" x="204">AAA799_D07 (KF954223)</text>
<text class="lb" transform="rotate(406.5)" x="204">Deep-sea H/Vent, 1519m (HQ635997)</text>
<text class="lb r" transform="rotate(409.25)" x="204">200m_RS150 (KF954250)</text>
<text class="lb" transform="rotate(412)" x="204">Tyrrhenian Sea, 3480m (HM241834)</text>
<text class="lb" transform="rotate(414.75)" x="204">Pacific Ocean H/Vent, 2543m (HQ636087)</text>
<text class="lb" transform="rotate(417.5)" x="204">Pacific Ocean OMZ (FJ615475)</text>
<text class="lb" transform="rotate(420.25)" x="204">Fosmid AD1000-202-A2 (EU686624)</text>
<text class="lb" transform="rotate(423)" x="204">ALOHA, 500m (DQ300523)</text>
<text class="lb" transform="rotate(425.75)" x="204">Deep-sea H/Vent, 568m (HQ635920)</text>
<text class="lb r" transform="rotate(428.5)" x="204">700m_RS24 (KF954265)</text>
<text class="lb" transform="rotate(431.25)" x="204">Pacific Ocean, 800m (JQ221863)</text>
<text class="lb" transform="rotate(434)" x="204">Pacific Ocean, 1000m (GU317528)</text>
<text class="lb" transform="rotate(436.75)" x="204">Suiyo Seamount H/Vent (AB193971)</text>
<text class="lb" transform="rotate(439.5)" x="204">Fosmid SAT1000-23-F7 (EU686615)</text>
<text class="lb" transform="rotate(442.25)" x="204">N. Atlantic, 2750m (FJ150797)</text>
</g>

<!-- tree legend -->
<g id="tree-legend">
<rect x="459" y="272" width="6.5" height="6.5" fill="#2c5278" stroke="#222" stroke-width="0.6"/>
<text class="tl" x="468" y="279">Shallow Marine Group I.1a</text>
<rect x="459" y="286.5" width="6.5" height="6.5" fill="#97b9d4" stroke="#222" stroke-width="0.6"/>
<text class="tl" x="468" y="293.5">Deep Marine Group I.1a</text>
<rect x="459" y="301" width="6.5" height="6.5" fill="#e69b37" stroke="#222" stroke-width="0.6"/>
<text class="tl" x="468" y="308">pSL12 Group</text>
<text x="458.5" y="319.3" font-size="7" font-weight="bold" fill="#111">BSV:</text>
<circle cx="460.5" cy="327" r="2.2" fill="#fff" stroke="#000" stroke-width="0.8"/>
<text x="463.5" y="329.6" font-size="7.2" fill="#111">≥50</text>
<circle cx="460.5" cy="335" r="2.3" fill="#000"/>
<text x="463.5" y="337.6" font-size="7.2" fill="#111">≥70</text>
<line x1="459" y1="368.3" x2="467.3" y2="368.3" stroke="#000" stroke-width="1.4"/>
<text x="470.8" y="370.5" font-size="7" fill="#222">0.01</text>
</g>
</svg>
